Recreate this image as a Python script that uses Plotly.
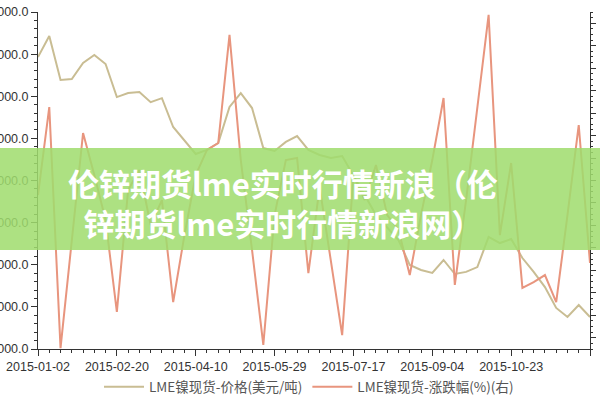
import plotly.graph_objects as go

dates = ["2015-01-02","2015-01-09","2015-01-16","2015-01-23","2015-01-30",
         "2015-02-06","2015-02-13","2015-02-20","2015-02-27","2015-03-06",
         "2015-03-13","2015-03-20","2015-03-27","2015-04-03","2015-04-10",
         "2015-04-17","2015-04-24","2015-05-01","2015-05-08","2015-05-15",
         "2015-05-22","2015-05-29","2015-06-05","2015-06-12","2015-06-19",
         "2015-06-26","2015-07-03","2015-07-10","2015-07-17","2015-07-24",
         "2015-07-31","2015-08-07","2015-08-14","2015-08-21","2015-08-28",
         "2015-09-04","2015-09-11","2015-09-18","2015-09-25","2015-10-02",
         "2015-10-09","2015-10-16","2015-10-23","2015-10-30","2015-11-06",
         "2015-11-13","2015-11-20","2015-11-27","2015-12-04","2015-12-11"]

price = [14930, 15430, 14385, 14410, 14790, 14980, 14765, 13980, 14075, 14100,
         13860, 13955, 13270, 12960, 12630, 12725, 12890, 13745, 14075, 13720,
         12770, 12700, 12915, 13055, 12725, 12605, 12535, 12580, 12130, 11655,
         11180, 10870, 10585, 9995, 9875, 9805, 10113, 9780, 9830, 9945,
         10660, 10515, 10610, 10160, 9830, 9470, 8975, 8760, 9045, 8760]

change = [-0.65, 3.27, -7.46, -2.65, 2.11, 0.24, -1.76, -5.85, -0.42, 0.47,
          -1.98, -0.87, -5.41, -2.43, 0.24, 1.36, 1.67, 6.48, 0.91, -3.09,
          -7.32, -1.54, 0.91, 1.00, -4.12, -0.29, -3.54, -6.88, 0.24, -0.87,
          0.69, -1.54, -2.20, -4.21, -1.54, 0.91, 3.67, -4.65, -0.87, 3.14,
          7.37, -2.43, 0.78, -4.78, -4.52, -4.21, -5.41, -1.54, 2.47, -3.67]

x_ticks = ["2015-01-02", "2015-02-20", "2015-04-10", "2015-05-29",
           "2015-07-17", "2015-09-04", "2015-10-23", "2015-12-11"]

name_price = "LME镍现货-价格(美元/吨)"
name_change = "LME镍现货-涨跌幅(%)(右)"
title_line1 = "伦锌期货lme实时行情新浪（伦"
title_line2 = "锌期货lme实时行情新浪网）"

fig = go.Figure()
fig.add_trace(go.Scatter(x=dates, y=price, name=name_price, mode="lines",
                         line=dict(color="#C9BD93", width=2)))
fig.add_trace(go.Scatter(x=dates, y=change, name=name_change, mode="lines",
                         yaxis="y2", line=dict(color="#E8957E", width=2)))

axis_font = dict(family="Liberation Sans, Arial, sans-serif", size=12.5, color="#333333")
DAY = 86400000

fig.update_layout(
    width=600, height=400, autosize=False,
    margin=dict(l=38, r=10, t=12, b=51),
    paper_bgcolor="white", plot_bgcolor="white",
    showlegend=True,
    legend=dict(orientation="h", xref="container", yref="container",
                x=0.515, xanchor="center", y=1 - 387 / 400.0, yanchor="middle",
                font=dict(family="Noto Sans CJK SC, sans-serif", size=13.5, color="#555555"),
                itemwidth=40, bgcolor="rgba(0,0,0,0)"),
    xaxis=dict(type="date", range=["2015-01-02", "2015-12-11"],
               tickmode="array", tickvals=x_ticks, ticktext=x_ticks,
               showgrid=False, showline=True, linecolor="#333333", linewidth=1,
               ticks="outside", ticklen=6, tickcolor="#333333",
               minor=dict(dtick=7 * DAY, tick0="2015-01-02", ticks="outside",
                          ticklen=3, tickcolor="#333333", showgrid=False),
               tickfont=axis_font, zeroline=False, automargin=False),
    yaxis=dict(range=[8000, 16000], dtick=1000, tickformat=".1f",
               showgrid=False, showline=True, linecolor="#333333", linewidth=1,
               ticks="outside", ticklen=6, tickcolor="#333333",
               minor=dict(dtick=200, ticks="outside", ticklen=3,
                          tickcolor="#333333", showgrid=False),
               tickfont=axis_font, zeroline=False, automargin=False),
    yaxis2=dict(range=[-7.5, 7.5], dtick=1, overlaying="y", side="right",
                showgrid=False, showline=True, linecolor="#333333", linewidth=1,
                ticks="outside", ticklen=5, tickcolor="#333333",
                minor=dict(dtick=0.25, ticks="outside", ticklen=2,
                           tickcolor="#333333", showgrid=False),
                showticklabels=False, zeroline=False, automargin=False),
)

# green banner overlay
pw = 552.0
ph = 337.0
fig.add_shape(type="rect", xref="paper", yref="paper",
              x0=-38 / pw, x1=1 + 10 / pw,
              y0=(349 - 250) / ph, y1=(349 - 148) / ph,
              fillcolor="rgba(160,220,110,0.86)", line=dict(width=0), layer="above")

title_font = dict(family="Noto Sans CJK SC, sans-serif", size=31, color="white")
fig.add_annotation(xref="paper", yref="paper", x=(283 - 38) / pw, y=(349 - 202.5) / ph,
                   text="<b>" + title_line1 + "</b><br><b>" + title_line2 + "</b>",
                   showarrow=False, align="center",
                   font=title_font, xanchor="center", yanchor="middle")

fig.write_html("out.html", config={"displayModeBar": False, "responsive": False},
               post_script="document.body.style.margin='0px';document.body.style.overflow='hidden';")
